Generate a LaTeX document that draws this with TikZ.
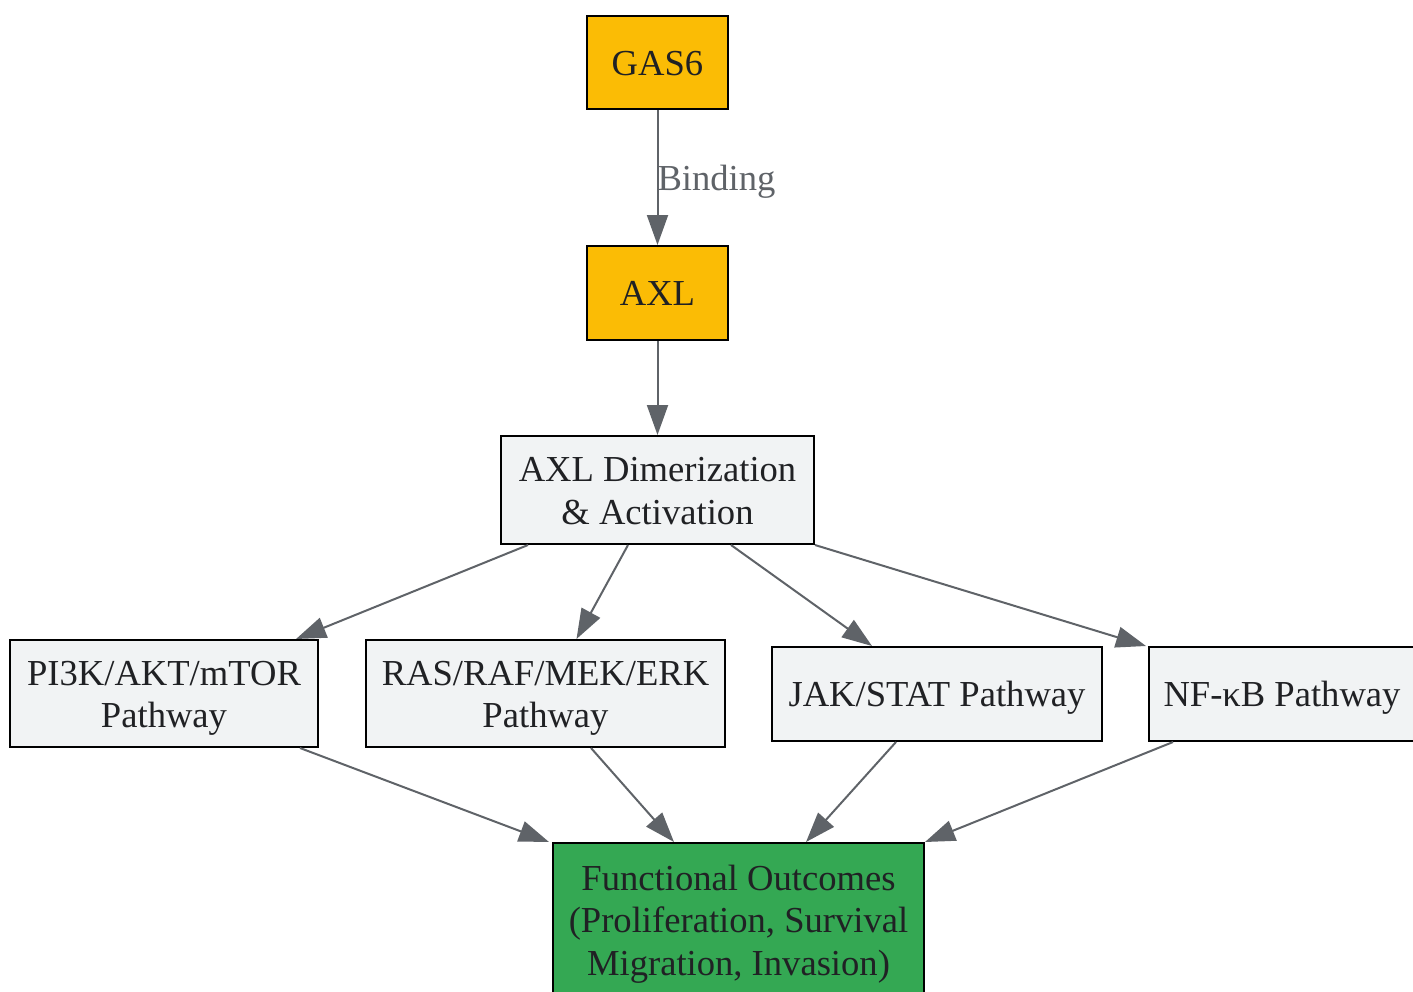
\documentclass[tikz,border=0pt]{standalone}
\usepackage{fontspec}
\setmainfont{Liberation Serif}
\usetikzlibrary{arrows.meta}
\definecolor{gyellow}{HTML}{FBBC05}
\definecolor{ggreen}{HTML}{34A853}
\definecolor{glight}{HTML}{F1F3F4}
\definecolor{gedge}{HTML}{5F6368}
\definecolor{gtext}{HTML}{202124}
\newcommand\ms{\rule[-8.4pt]{0pt}{42.4pt}}
\tikzset{
  box/.style={draw=black, line width=2pt, inner sep=0pt, align=center, text=gtext,
    font=\fontsize{36.6}{42.5}\selectfont},
  conn/.style={draw=gedge, line width=2pt, -{Triangle[length=30pt,width=21pt]}},
  elabel/.style={text=gedge, font=\fontsize{36.6}{42.5}\selectfont, inner sep=0pt}
}
\begin{document}
\begin{tikzpicture}[x=1pt,y=-1pt]
\useasboundingbox (0,0) rectangle (1413,991);
\node[box, fill=gyellow, minimum width=141pt, minimum height=93pt] (gas6) at (657.5,62.5) {\ms GAS6};
\node[box, fill=gyellow, minimum width=141pt, minimum height=94pt] (axl) at (657.5,293) {\ms AXL};
\node[box, fill=glight, minimum width=313pt, minimum height=108pt] (dim) at (657.5,490) {\ms AXL Dimerization\\\ms\& Activation};
\node[box, fill=glight, minimum width=308pt, minimum height=107pt] (pi3k) at (164,693.5) {\ms PI3K/AKT/mTOR\\\ms Pathway};
\node[box, fill=glight, minimum width=359pt, minimum height=107pt] (ras) at (545.5,693.5) {\ms RAS/RAF/MEK/ERK\\\ms Pathway};
\node[box, fill=glight, minimum width=330pt, minimum height=94pt] (jak) at (937,694) {\ms JAK/STAT Pathway};
\node[box, fill=glight, minimum width=266pt, minimum height=94pt] (nf) at (1282,694) {\ms NF-κB Pathway};
\node[box, fill=ggreen, minimum width=371pt, minimum height=154pt] (func) at (738.5,920) {\ms Functional Outcomes\\\ms(Proliferation, Survival\\\ms Migration, Invasion)};

\draw[conn] (gas6) -- node[elabel, anchor=west, pos=0.504, xshift=-1pt] (bindlbl) {\ms Binding} (axl);
\draw[conn] (axl) -- (dim);
\draw[conn] ([xshift=-129.5pt]dim.south) -- ([xshift=132pt]pi3k.north);
\draw[conn] ([xshift=-29.5pt]dim.south) -- ([xshift=31pt]ras.north);
\draw[conn] ([xshift=73.5pt]dim.south) -- ([xshift=-65pt]jak.north);
\draw[conn] (dim.south east) -- ([xshift=-2pt]nf.north west);
\draw[conn] ([xshift=136pt]pi3k.south) -- ([xshift=-3pt]func.north west);
\draw[conn] ([xshift=45.5pt]ras.south) -- ([xshift=-64.5pt]func.north);
\draw[conn] ([xshift=-41pt]jak.south) -- ([xshift=67.5pt]func.north);
\draw[conn] ([xshift=-109pt]nf.south) -- (func.north east);
\end{tikzpicture}
\end{document}
